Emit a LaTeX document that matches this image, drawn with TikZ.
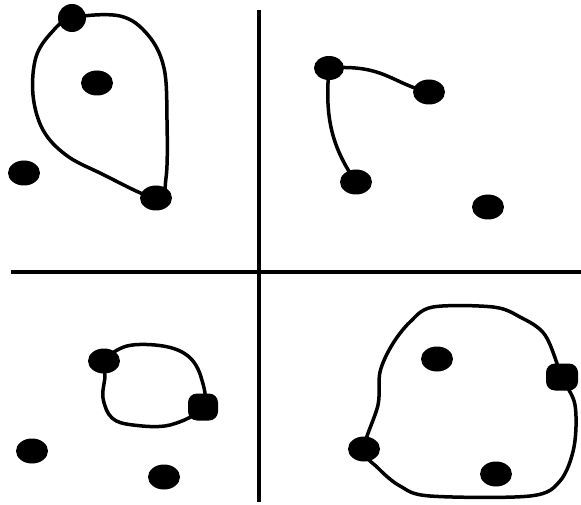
\documentclass[tikz,border=0pt]{standalone}
\usetikzlibrary{shapes.geometric}
\begin{document}
\begin{tikzpicture}[x=1pt,y=-1pt,
  dot/.style={ellipse,fill=black,draw=none,minimum width=32pt,minimum height=25pt,inner sep=0pt},
  sqdot/.style={rectangle,rounded corners=9pt,fill=black,draw=none,minimum width=30pt,minimum height=27pt,inner sep=0pt},
  curve/.style={line width=3.5pt,line cap=round,line join=round},
  axis/.style={line width=4pt}]
\useasboundingbox (0,0) rectangle (581,505);
% axes
\coordinate (vt) at (259,10);
\coordinate (vb) at (259,502);
\coordinate (hl) at (11,272);
\coordinate (hr) at (581,272);
\draw[axis] (vt) -- (vb);
\draw[axis] (hl) -- (hr);
% top-left
\node[dot,minimum width=28pt,minimum height=28pt] (A) at (72,18) {};
\node[dot] (B) at (97,83) {};
\node[dot] (C) at (24,173) {};
\node[dot] (D) at (156,198) {};
\draw[curve] plot[smooth cycle,tension=0.6] coordinates {(A.center) (120,16) (148,35) (164,68) (167,120) (166,178) (D.center) (100,173) (66,155) (43,130) (33,95) (36,57) (52,32)};
% top-right
\node[dot,minimum width=30pt,minimum height=24pt] (E) at (329,68) {};
\node[dot] (F) at (429,92) {};
\node[dot] (G) at (356,182) {};
\node[dot] (H) at (488,207) {};
\draw[curve] (E.center) .. controls (385,64) and (392,84) .. (F.center);
\draw[curve] (E.center) to[out=-95,in=125] (G.center);
% bottom-left
\node[dot] (I) at (104,361) {};
\node[sqdot] (J) at (203,407) {};
\node[dot] (K) at (32,451) {};
\node[dot] (L) at (164,477) {};
\draw[curve] plot[smooth cycle,tension=0.6] coordinates {(I.center) (127,346) (163,346) (188,356) (201,377) (J.center) (170,425) (133,425) (112,418) (103,398) (105,376)};
% bottom-right
\node[dot] (M) at (437,359) {};
\node[sqdot,minimum width=32pt] (N) at (562,377) {};
\node[dot] (O) at (364,449) {};
\node[dot] (P) at (496,474) {};
\draw[curve] plot[smooth cycle,tension=0.55] coordinates {(N.center) (545,335) (520,317) (493,307) (433,307) (410,322) (392,345) (380,372) (378,405) (O.center) (378,468) (400,486) (430,496) (530,496) (560,481) (574,447) (575,405)};
\end{tikzpicture}
\end{document}
